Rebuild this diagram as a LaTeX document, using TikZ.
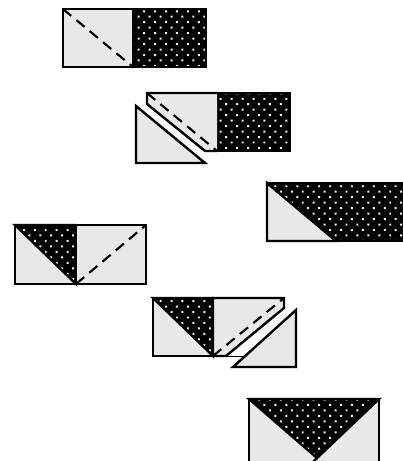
\documentclass[tikz,border=0pt]{standalone}
\usepackage{xcolor}
\usepackage{tikz}
\usetikzlibrary{patterns.meta}
\definecolor{patchLight}{HTML}{E8E8E8}
\definecolor{patchDot}{HTML}{F0F0F0}

\begin{document}
\begin{tikzpicture}[x=0.75pt, y=-0.75pt, line join=miter,
    lightpiece/.style={draw=black, fill=patchLight, line width=1.8pt},
    darkpiece/.style={draw=black, line width=1.8pt, preaction={fill=black},
        pattern={Dots[radius=1.05pt, distance=5.8pt, angle=45, xshift=1.5pt, yshift=1pt]}, pattern color=patchDot},
    foldline/.style={black, line width=1.6pt, dash pattern=on 8pt off 5pt}]

        \useasboundingbox (0,0) rectangle (403,461);
        \clip (0,0) rectangle (403,461);

        \path[darkpiece] (133,9) rectangle (206,67);
        \path[lightpiece] (63,9) rectangle (133,67);
        \draw[foldline] (63,9) -- (133,67);

        \path[darkpiece] (217,93) rectangle (290,151);
        \path[lightpiece] (217,93) -- (147,93) -- (147,104) -- (205,151) -- (217,151);
        \draw[foldline] (147,93) -- (217,151);
        \path[lightpiece] (136,106) -- (136,163) -- (205,163) -- cycle;

        \path[darkpiece] (267,183) rectangle (405,241);
        \path[lightpiece] (267,183) -- (267,241) -- (336,241) -- cycle;

        \path[lightpiece] (15,225) rectangle (76,284);
        \path[darkpiece] (15,225) -- (76,225) -- (76,284) -- cycle;
        \path[lightpiece] (76,225) rectangle (146,284);
        \draw[foldline] (76,284) -- (146,225);

        \path[lightpiece] (153,298) rectangle (213,356);
        \path[darkpiece] (153,298) -- (213,298) -- (213,356) -- cycle;
        \path[lightpiece] (213,356) -- (213,298) -- (284,298) -- (284,308) -- (226,356) -- cycle;
        \draw[foldline] (213,356) -- (284,298);
        \draw[black, line width=0.6pt] (226,356) -- (243,356);
        \path[lightpiece] (296,310) -- (296,367) -- (233,367) -- cycle;

        \path[lightpiece] (249,399) rectangle (379,475);
        \path[darkpiece] (249,399) -- (379,399) -- (317,458) -- cycle;
        \draw[black, line width=1.8pt] (317,458) -- (300,475);

    \end{tikzpicture}
\end{document}
